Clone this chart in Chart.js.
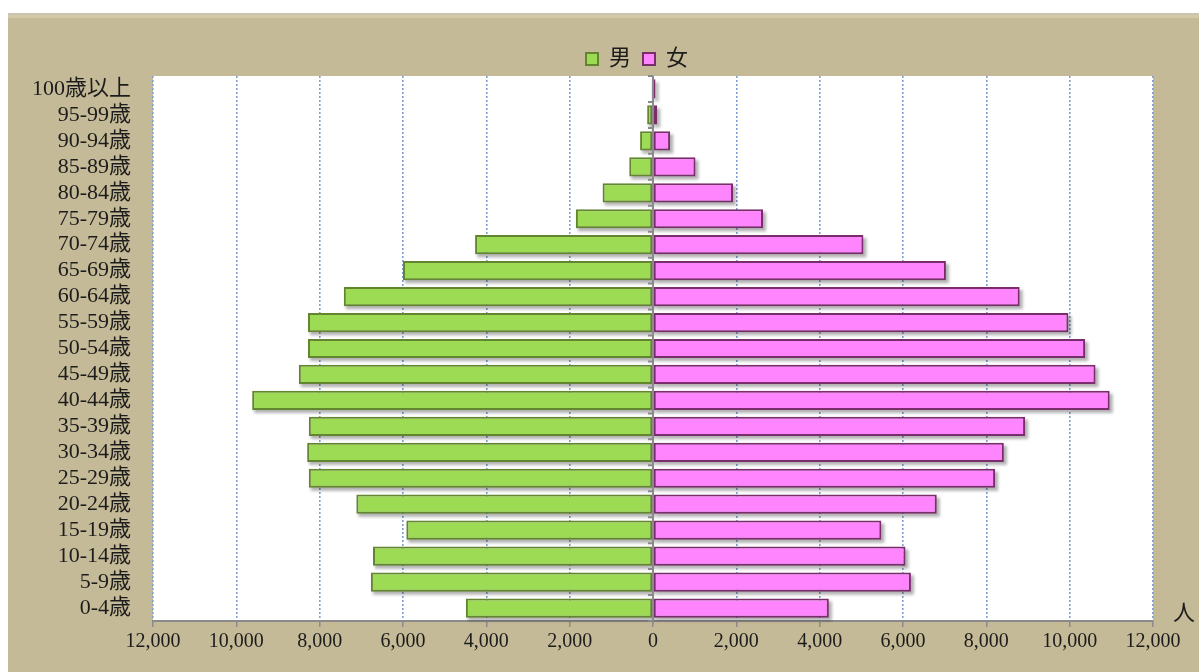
<!DOCTYPE html>
<html>
<head>
<meta charset="utf-8">
<script src="https://cdn.jsdelivr.net/npm/chart.js@4"></script>
<style>
  html, body { margin: 0; padding: 0; background: #fff; overflow: hidden; width: 1199px; height: 672px; }
  #panel {
    position: absolute; left: 8px; top: 13px; width: 1260px; height: 659px;
    background: #c5ba97; border-top: 2px solid #c9c4b2; box-sizing: border-box;
  }
  #panel::before {
    content: ""; position: absolute; left: 0; right: 0; top: 0; height: 3px; background: #d3c9a8;
  }
  canvas { position: absolute; left: 0; top: -2px; }
</style>
</head>
<body>
<div id="panel"><canvas id="pyramid" width="1260" height="659"></canvas></div>
<script>
const ageGroups = ["100歳以上", "95-99歳", "90-94歳", "85-89歳", "80-84歳", "75-79歳", "70-74歳",
  "65-69歳", "60-64歳", "55-59歳", "50-54歳", "45-49歳", "40-44歳", "35-39歳", "30-34歳",
  "25-29歳", "20-24歳", "15-19歳", "10-14歳", "5-9歳", "0-4歳"];

// 男 (drawn to the left)
const male = [30, 140, 310, 570, 1210, 1850, 4270, 6000, 7420, 8280, 8280, 8500, 9620,
  8260, 8300, 8260, 7120, 5920, 6720, 6770, 4490];

// 女
const female = [60, 100, 410, 1020, 1920, 2640, 5050, 7030, 8800, 9970, 10370, 10620, 10960,
  8930, 8420, 8210, 6810, 5480, 6060, 6190, 4220];

const xTicks = [-12000, -10000, -8000, -6000, -4000, -2000, 0, 2000, 4000, 6000, 8000, 10000, 12000];
const unitLabel = "人";

const serif = "'Liberation Serif', 'Noto Sans CJK JP', serif";
const textColor = "#1c1c1c";

// plot area white, bar shadows, zero axis, unit label, legend placement
const decor = {
  id: "decor",
  afterLayout(chart) {
    // the legend sits centred on the whole (partly hidden) panel, a bit lower
    const lg = chart.legend;
    const dx = chart.width / 2 - 1 - (lg.left + lg.right) / 2;
    lg.left += dx; lg.right += dx;
    lg.top += 4; lg.bottom += 4;
  },
  beforeDraw(chart) {
    const { ctx, chartArea } = chart;
    ctx.save();
    ctx.fillStyle = "#ffffff";
    ctx.fillRect(chartArea.left, chartArea.top, chartArea.right - chartArea.left, chartArea.bottom - chartArea.top);
    ctx.restore();
  },
  beforeDatasetsDraw(chart) {
    const { ctx } = chart;
    ctx.save();
    ctx.fillStyle = "rgba(0,0,0,0.3)";
    ctx.filter = "blur(1.5px)";
    chart.data.datasets.forEach((ds, di) => {
      chart.getDatasetMeta(di).data.forEach(bar => {
        const { x, y, base, height } = bar.getProps(["x", "y", "base", "height"], true);
        const left = Math.min(x, base);
        const w = Math.abs(x - base);
        ctx.fillRect(left + 2, y - height / 2 + 3, w + 1, height);
      });
    });
    ctx.restore();
  },
  afterDatasetsDraw(chart) {
    const { ctx, chartArea, scales } = chart;
    const x0 = scales.x.getPixelForValue(0);
    ctx.save();
    ctx.strokeStyle = "#8a8a8a";
    ctx.lineWidth = 2;
    ctx.beginPath();
    ctx.moveTo(x0, chartArea.top);
    ctx.lineTo(x0, chartArea.bottom);
    const n = ageGroups.length;
    const step = (chartArea.bottom - chartArea.top) / n;
    for (let i = 0; i <= n; i++) {
      const y = scales.y.getPixelForValue(i) - step / 2;
      ctx.moveTo(x0 - 5, y);
      ctx.lineTo(x0, y);
    }
    ctx.stroke();
    ctx.fillStyle = textColor;
    ctx.font = "22px " + serif;
    ctx.textAlign = "left";
    ctx.textBaseline = "bottom";
    ctx.fillText(unitLabel, chartArea.right + 20, chartArea.bottom + 4);
    ctx.restore();
  }
};

new Chart(document.getElementById("pyramid"), {
  type: "bar",
  data: {
    labels: ageGroups,
    datasets: [
      {
        label: "男",
        data: male.map(v => -v),
        backgroundColor: "#9ddb54",
        borderColor: "#64852f",
        borderWidth: 2,
        borderSkipped: false
      },
      {
        label: "女",
        data: female,
        backgroundColor: "#ff85ff",
        borderColor: "#7a2d6b",
        borderWidth: 2,
        borderSkipped: false
      }
    ]
  },
  options: {
    indexAxis: "y",
    responsive: false,
    animation: false,
    barPercentage: 0.74,
    categoryPercentage: 1,
    layout: { padding: { left: 0, right: 115, top: 19, bottom: 15 } },
    scales: {
      x: {
        stacked: true,
        min: -12000,
        max: 12000,
        afterBuildTicks(scale) { scale.ticks = xTicks.map(v => ({ value: v })); },
        ticks: {
          color: textColor,
          font: { family: serif, size: 20 },
          padding: 3,
          maxRotation: 0,
          callback: v => Math.abs(v).toLocaleString("en-US")
        },
        grid: {
          color: "#7fa0d0",
          lineWidth: 1.6,
          tickColor: "#8a8a8a",
          tickLength: 6,
          tickWidth: 1.5,
          tickBorderDash: []
        },
        border: { display: true, color: "#8a8a8a", width: 2, dash: [2, 2] }
      },
      y: {
        stacked: true,
        afterFit(scale) { scale.width = 145; },
        ticks: {
          autoSkip: false,
          color: textColor,
          font: { family: serif, size: 22 },
          padding: 22
        },
        grid: { display: false, drawTicks: false },
        border: { display: false }
      }
    },
    plugins: {
      legend: {
        position: "top",
        labels: {
          color: textColor,
          font: { family: serif, size: 22 },
          boxWidth: 12,
          boxHeight: 12,
          padding: 12
        }
      },
      tooltip: { enabled: false }
    }
  },
  plugins: [decor]
});
</script>
</body>
</html>
